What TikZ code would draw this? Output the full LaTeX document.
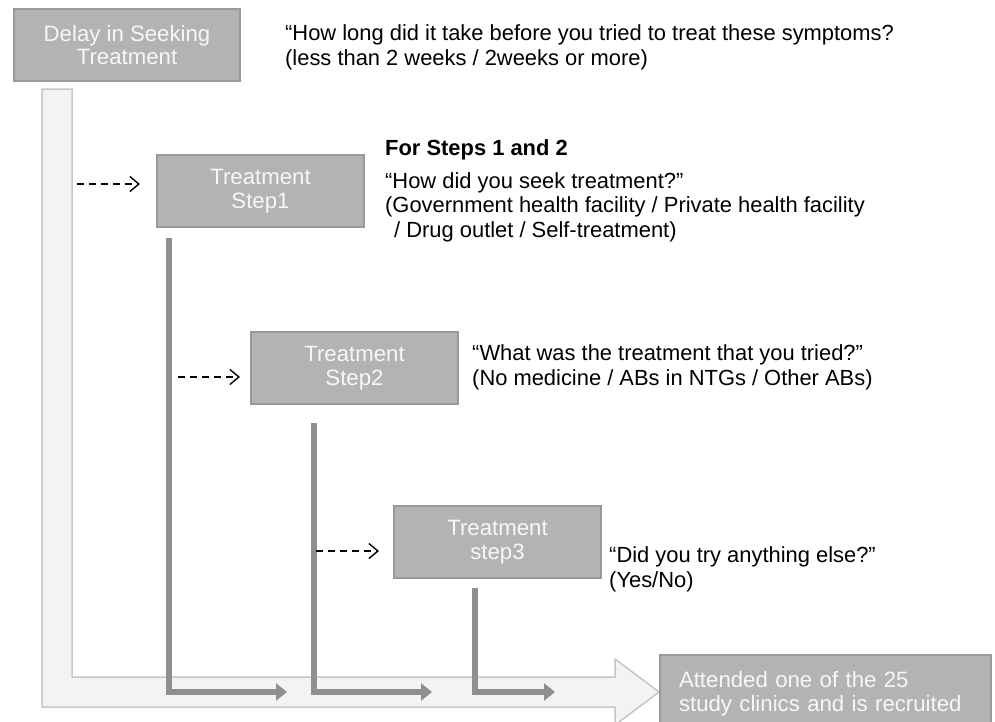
\documentclass[tikz,border=0pt]{standalone}
\usepackage{fontspec}
\setmainfont{Liberation Sans}
\usetikzlibrary{arrows.meta}
\definecolor{boxfill}{HTML}{B3B3B3}
\definecolor{boxline}{HTML}{999999}
\definecolor{barcol}{HTML}{8F8F8F}
\definecolor{lightfill}{HTML}{F3F3F3}
\definecolor{lightline}{HTML}{C6C6C6}
\definecolor{boxtext}{HTML}{F7F7F7}
\newcommand{\mainsize}{\fontsize{22.2}{23.5}\selectfont}
\newcommand{\qsize}{\fontsize{21.9}{24.5}\selectfont}
\begin{document}
\begin{tikzpicture}[x=1pt,y=-1pt,
  every node/.style={font=\mainsize},
  graybox/.style={draw=boxline, line width=2pt, fill=boxfill, text=boxtext, align=center,
    minimum width=207pt, minimum height=72pt, inner sep=0pt, anchor=north west},
  qtext/.style={anchor=base west, align=left, inner sep=0pt, text=black, font=\qsize},
  barrow/.style={draw=barcol, line width=6pt, line join=miter, -{Triangle[length=11pt,width=17pt]}},
  dasharrow/.style={draw=black, line width=1.4pt, dash pattern=on 7pt off 5pt,
    -{Straight Barb[length=9pt,width=15pt]}}
]
\useasboundingbox (0,0) rectangle (995,721);
\fill[white] (0,0) rectangle (995,721);

% big light L-shaped arrow
\draw[draw=lightline, fill=lightfill, line width=1.5pt]
  (42,89) -- (72,89) -- (72,677) -- (615,677) -- (615,659) -- (659,692)
  -- (615,725) -- (615,707) -- (42,707) -- cycle;

% boxes
\node[graybox, minimum width=226pt] (delay) at (13,8) {Delay in Seeking\\Treatment};
\node[graybox] (s1) at (156,154) {Treatment\\Step1};
\node[graybox] (s2) at (250,331) {Treatment\\Step2};
\node[graybox] (s3) at (393,505) {Treatment\\step3};
\node[graybox, minimum width=331pt, minimum height=77pt, align=left,
  text width=293pt, inner xsep=19pt] (att) at (659,654)
  {Attended one of the 25\\study clinics and is recruited};

% dark L arrows
\coordinate (b1s) at (169,238);   \coordinate (b1e) at (287,692);
\coordinate (b2s) at (314,423);   \coordinate (b2e) at (432,692);
\coordinate (b3s) at (474.5,588); \coordinate (b3e) at (555,692);
\draw[barrow] (b1s) |- (b1e);
\draw[barrow] (b2s) |- (b2e);
\draw[barrow] (b3s) |- (b3e);

% dashed arrows
\coordinate (d1s) at (77,184);  \coordinate (d1e) at (140,184);
\coordinate (d2s) at (178,377); \coordinate (d2e) at (240,377);
\coordinate (d3s) at (316,551); \coordinate (d3e) at (379,551);
\draw[dasharrow] (d1s) -- (d1e);
\draw[dasharrow] (d2s) -- (d2e);
\draw[dasharrow] (d3s) -- (d3e);

% texts (anchor = baseline of the last line)
\node[qtext] (q1) at (285,65) {“How long did it take before you tried to treat these symptoms?\\(less than 2 weeks / 2weeks or more)};
\node[qtext, font=\qsize\bfseries] (hdr) at (385,155) {For Steps 1 and 2};
\node[qtext] (q2) at (385,237) {“How did you seek treatment?”\\(Government health facility / Private health facility\\\hspace*{9pt}/ Drug outlet / Self-treatment)};
\node[qtext] (q3) at (472,385) {“What was the treatment that you tried?”\\(No medicine / ABs in NTGs / Other ABs)};
\node[qtext] (q4) at (609,587) {“Did you try anything else?”\\(Yes/No)};
\end{tikzpicture}
\end{document}
